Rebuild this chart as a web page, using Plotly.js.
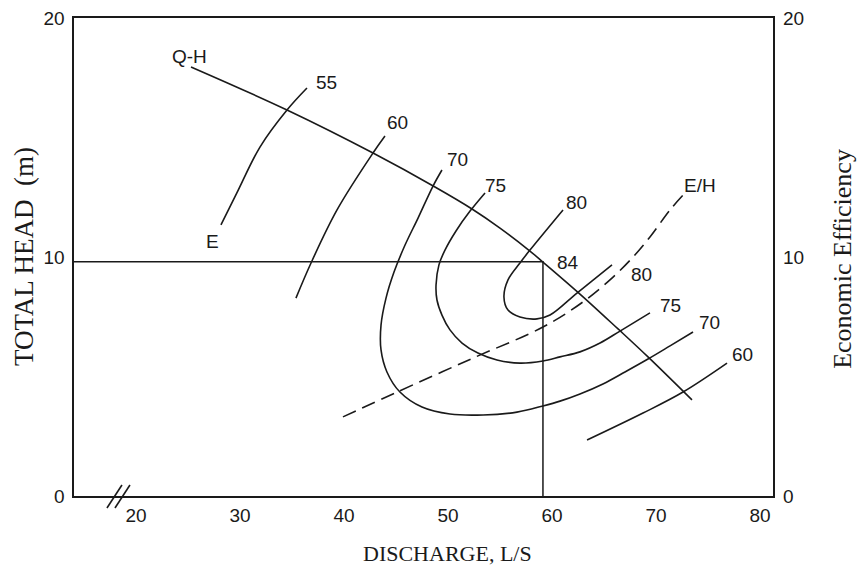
<!DOCTYPE html>
<html>
<head>
<meta charset="utf-8">
<script src="https://cdn.plot.ly/plotly-3.0.1.min.js"></script>
<style>html,body{margin:0;padding:0;background:#fff}#chart{width:860px;height:567px}</style>
</head>
<body>
<div id="chart"></div>
<script>
// Q-H pump curve
const qhX = [25.29, 34.52, 42.79, 48.75, 52.31, 55.0, 57.88, 59.13, 62.69, 66.35, 69.23, 73.46];
const qhY = [17.95, 16.15, 14.35, 12.93, 12.01, 11.21, 10.25, 9.79, 8.45, 6.99, 5.82, 4.02];
// Iso-efficiency curves
const e55X = [28.17, 29.7, 31.92, 34.52, 36.44];
const e55Y = [11.34, 12.68, 14.6, 16.15, 17.07];
const e60X = [35.38, 36.83, 39.33, 42.79, 43.94];
const e60Y = [8.28, 9.75, 11.97, 14.35, 15.06];
const e70X = [49.42, 48.56, 47.12, 45.87, 44.81, 44.04, 43.56, 43.56, 44.13, 45.38, 47.5, 50.19, 53.37, 56.63, 59.13, 60.77, 62.69, 64.9, 67.02, 69.23, 71.35, 73.56];
const e70Y = [13.64, 12.97, 11.63, 10.5, 9.37, 8.28, 7.15, 6.11, 5.19, 4.35, 3.72, 3.43, 3.39, 3.51, 3.77, 3.97, 4.27, 4.69, 5.19, 5.73, 6.28, 6.86];
const e75X = [53.56, 52.12, 50.77, 49.71, 49.13, 48.85, 48.94, 49.42, 50.19, 51.35, 52.88, 54.71, 56.92, 59.13, 60.77, 62.69, 64.62, 66.54, 69.42];
const e75Y = [12.68, 11.92, 11.09, 10.29, 9.67, 8.83, 8.2, 7.57, 6.95, 6.4, 5.98, 5.69, 5.56, 5.65, 5.82, 6.03, 6.4, 6.9, 7.66];
const e80X = [61.06, 57.88, 56.92, 55.77, 55.38, 55.77, 56.92, 58.56, 59.81, 62.4, 65.77];
const e80Y = [11.97, 10.29, 9.75, 9.04, 8.33, 7.78, 7.49, 7.41, 7.57, 8.49, 9.67];
const e60rX = [63.37, 68.75, 72.6, 76.83];
const e60rY = [2.34, 3.47, 4.35, 5.56];
// E/H dashed curve
const ehX = [39.9, 45.1, 52.4, 59.13, 62.98, 65.87, 67.79, 69.42, 71.35, 72.6];
const ehY = [3.31, 4.35, 5.77, 7.07, 8.12, 9.16, 10.0, 10.84, 11.97, 12.59];
// optimum point (drop lines)
const optX = 59.13;
const optY = 9.8;
// curve labels
const labelText = ["Q-H", "55", "60", "70", "75", "80", "E/H", "84", "80", "75", "70", "60", "E"];
const labelX = [25.19, 38.27, 45.19, 50.87, 54.52, 62.4, 74.23, 61.54, 68.65, 71.35, 75.19, 78.27, 27.4];
const labelY = [18.37, 17.32, 15.61, 14.06, 13.01, 12.3, 13.01, 9.75, 9.25, 7.99, 7.28, 5.9, 10.63];
// axes
const xTicks = [20, 30, 40, 50, 60, 70, 80];
const yTicks = [0, 10, 20];
const xRange = [14.04, 81.25];
const yRange = [0, 20];
const xTitle = 'DISCHARGE, L/S';
const yTitle = 'TOTAL HEAD  (m)';
const y2Title = 'Economic Efficiency';
// axis break marks (x in data units)
const breakX0 = [17.21, 17.98];
const breakX1 = [18.65, 19.42];

const INK = '#1a1a1a';
const lineStyle = {color: INK, width: 1.6, shape: 'spline', smoothing: 1};
function curve(x, y, extra) {
  return {x: x, y: y, type: 'scatter', mode: 'lines', hoverinfo: 'skip',
    line: Object.assign({}, lineStyle, extra || {}), showlegend: false};
}
const traces = [
  curve(qhX, qhY),
  curve(e55X, e55Y),
  curve(e60X, e60Y),
  curve(e70X, e70Y),
  curve(e75X, e75Y),
  curve(e80X, e80Y),
  curve(e60rX, e60rY),
  curve(ehX, ehY, {dash: '14px,7px'}),
  {x: [xRange[0], optX, optX], y: [optY, optY, 0], type: 'scatter', mode: 'lines', hoverinfo: 'skip',
   line: {color: INK, width: 1.5}, showlegend: false},
  {x: [null], y: [null], yaxis: 'y2', type: 'scatter', mode: 'lines', showlegend: false, hoverinfo: 'skip'}
];

const toPaper = v => (v - xRange[0]) / (xRange[1] - xRange[0]);
const shapes = breakX0.map((x0, i) => ({
  type: 'line', xref: 'paper', yref: 'paper',
  x0: toPaper(x0), y0: -0.025, x1: toPaper(breakX1[i]), y1: 0.023,
  line: {color: INK, width: 1.6}
}));

const labelFont = {family: 'Liberation Sans, Arial, sans-serif', size: 19, color: INK};
const annotations = labelText.map((t, i) => ({
  text: t, x: labelX[i], y: labelY[i], xref: 'x', yref: 'y', showarrow: false,
  xanchor: 'center', yanchor: 'middle', font: labelFont
}));
const serif = 'Liberation Serif, Times New Roman, serif';
annotations.push(
  {text: xTitle, xref: 'paper', yref: 'paper', x: 0.535, y: -0.121, showarrow: false,
   xanchor: 'center', yanchor: 'middle', font: {family: serif, size: 22, color: INK}},
  {text: yTitle, xref: 'paper', yref: 'paper', x: -0.0715, y: 0.5, showarrow: false, textangle: -90,
   xanchor: 'center', yanchor: 'middle', font: {family: serif, size: 27, color: INK}},
  {text: y2Title, xref: 'paper', yref: 'paper', x: 1.1, y: 0.496, showarrow: false, textangle: -90,
   xanchor: 'center', yanchor: 'middle', font: {family: serif, size: 26, color: INK}}
);

const tickFont = {family: 'Liberation Sans, Arial, sans-serif', size: 19, color: INK};

const layout = {
  width: 860, height: 567,
  margin: {l: 74, r: 87, t: 18, b: 71},
  paper_bgcolor: '#fff', plot_bgcolor: '#fff',
  showlegend: false,
  xaxis: {
    range: xRange, tickvals: xTicks, ticktext: xTicks.map(String),
    showgrid: false, zeroline: false, showline: true, mirror: true,
    linecolor: INK, linewidth: 1.6, ticks: '', tickfont: tickFont, ticklabelstandoff: 2
  },
  yaxis: {
    range: yRange, tickvals: yTicks, ticktext: yTicks.map(String),
    showgrid: false, zeroline: false, showline: true, mirror: true,
    linecolor: INK, linewidth: 1.6, ticks: '', tickfont: tickFont, ticklabelstandoff: 4
  },
  yaxis2: {
    overlaying: 'y', side: 'right', range: yRange, tickvals: yTicks, ticktext: yTicks.map(String),
    showgrid: false, zeroline: false, showline: false, ticks: '', tickfont: tickFont,
    ticklabelstandoff: 9
  },
  shapes: shapes,
  annotations: annotations
};

Plotly.newPlot('chart', traces, layout, {staticPlot: true, displayModeBar: false});
</script>
</body>
</html>
